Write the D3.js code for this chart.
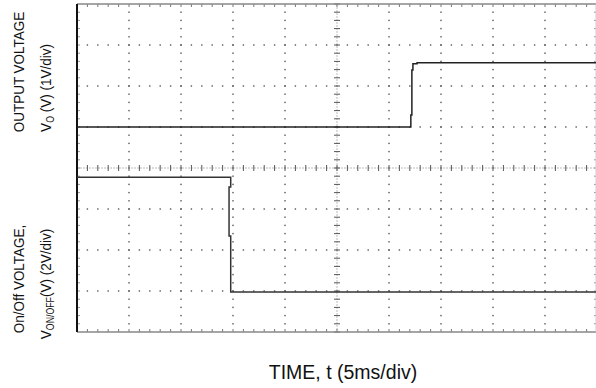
<!DOCTYPE html>
<html>
<head>
<meta charset="utf-8">
<script src="https://cdn.jsdelivr.net/npm/d3@7"></script>
<style>
  body { margin: 0; background: #fff; }
  text { font-family: "Liberation Sans", Arial, sans-serif; fill: #111; }
</style>
</head>
<body>
<div id="chart"></div>
<script>
// scope settings
const TIME_DIVS = 10, MS_PER_DIV = 5;
const V_DIVS = 8;

// output voltage trace (ms, V) - 1V/div, ground one div above centre
const voutTime = [0, 32.1, 32.1, 32.2, 32.2, 32.3, 32.3, 32.7, 32.7, 50];
const voutVolt = [0, 0, 0.29, 0.29, 1.39, 1.39, 1.54, 1.54, 1.57, 1.57];

// on/off voltage trace (ms, V) - 2V/div
const vonTime = [0, 14.78, 14.78, 14.62, 14.62, 14.78, 14.78, 50];
const vonVolt = [5.55, 5.55, 5.07, 5.07, 2.68, 2.68, -0.05, -0.05];

const W = 596, H = 388;
const padL = 77, padT = 4, plotW = 520, plotH = 328;
const STRETCH = 1.15; // side labels are drawn a bit tall

const svg = d3.select("#chart").append("svg")
  .attr("width", W)
  .attr("height", H)

const x = d3.scaleLinear()
  .domain([0, TIME_DIVS * MS_PER_DIV])
  .range([padL, padL + plotW]);

// screen divisions, top to bottom
const div = d3.scaleLinear()
  .domain([0, V_DIVS])
  .range([padT, padT + plotH]);

// upper half: output voltage 1V/div, 0V at 3 divisions down
const yOut = d3.scaleLinear()
  .domain([-1, 3])
  .range([div(4), div(0)]);

// lower half: on/off voltage 2V/div, 0V at 7 divisions down
const yOn = d3.scaleLinear()
  .domain([-2, 6])
  .range([div(8), div(4)]);

const g = svg.append("g");

const majorT = d3.range(0, TIME_DIVS * MS_PER_DIV + 0.01, MS_PER_DIV);
const minorT = d3.range(0, TIME_DIVS * MS_PER_DIV + 0.01, MS_PER_DIV / 5);
const majorD = d3.range(0, V_DIVS + 0.01, 1);
const minorD = d3.range(0, V_DIVS + 0.01, 0.2);

// dotted grid: dots along each major line at minor steps
majorT.slice(1, -1).forEach(t => {
  if (t === 25) return;
  g.selectAll(null).data(minorD.slice(1, -1)).join("rect")
    .attr("x", x(t) - 0.7).attr("y", d => div(d) - 0.7)
    .attr("width", 1.4).attr("height", 1.4)
    .attr("fill", "#555");
});
majorD.slice(1, -1).forEach(d => {
  if (d === 4) return;
  g.selectAll(null).data(minorT.slice(1, -1)).join("rect")
    .attr("x", t => x(t) - 0.7).attr("y", div(d) - 0.7)
    .attr("width", 1.4).attr("height", 1.4)
    .attr("fill", "#555");
});

// centre crosshair
g.append("line")
  .attr("x1", x(0)).attr("x2", x(50)).attr("y1", div(4)).attr("y2", div(4))
  .attr("stroke", "#bbb").attr("stroke-dasharray", "2 1")
g.append("line")
  .attr("x1", x(25)).attr("x2", x(25)).attr("y1", div(0)).attr("y2", div(8))
  .attr("stroke", "#bbb").attr("stroke-dasharray", "2 1")
g.selectAll(null).data(minorT).join("line")
  .attr("x1", t => x(t)).attr("x2", t => x(t))
  .attr("y1", div(4) - 3).attr("y2", div(4) + 3)
  .attr("stroke", "#555")
g.selectAll(null).data(minorD).join("line")
  .attr("x1", x(25) - 3).attr("x2", x(25) + 3)
  .attr("y1", d => div(d)).attr("y2", d => div(d))
  .attr("stroke", "#555")

// border ticks on top and bottom
g.selectAll(null).data(minorT.slice(1, -1)).join("line")
  .attr("x1", t => x(t)).attr("x2", t => x(t))
  .attr("y1", div(0)).attr("y2", div(0) + 3)
  .attr("stroke", "#777")
g.selectAll(null).data(minorT.slice(1, -1)).join("line")
  .attr("x1", t => x(t)).attr("x2", t => x(t))
  .attr("y1", div(8) - 3).attr("y2", div(8))
  .attr("stroke", "#777")
// left / right border ticks
g.selectAll(null).data(minorD.slice(1, -1)).join("line")
  .attr("x1", x(0)).attr("x2", x(0) + 3)
  .attr("y1", d => div(d)).attr("y2", d => div(d))
  .attr("stroke", "#999")
g.selectAll(null).data(minorD.slice(1, -1)).join("line")
  .attr("x1", x(50) - 3).attr("x2", x(50))
  .attr("y1", d => div(d)).attr("y2", d => div(d))
  .attr("stroke", "#999")

// frame
g.append("line")
  .attr("x1", x(0)).attr("x2", x(50)).attr("y1", div(0)).attr("y2", div(0))
  .attr("stroke", "#888").attr("stroke-width", 1.5)
g.append("line")
  .attr("x1", x(0)).attr("x2", x(50)).attr("y1", div(8)).attr("y2", div(8))
  .attr("stroke", "#888").attr("stroke-width", 1.5)
g.append("line")
  .attr("x1", x(50) - 1).attr("x2", x(50) - 1).attr("y1", div(0)).attr("y2", div(8))
  .attr("stroke", "#ccc")
g.append("line")
  .attr("x1", x(0)).attr("x2", x(0)).attr("y1", div(0)).attr("y2", div(8))
  .attr("stroke", "#111").attr("stroke-width", 2)

// traces
const lineOut = d3.line().x(d => x(d[0])).y(d => yOut(d[1]));
const lineOn = d3.line().x(d => x(d[0])).y(d => yOn(d[1]));

g.append("path")
  .attr("d", lineOut(d3.zip(voutTime, voutVolt)))
  .attr("fill", "none").attr("stroke", "#222").attr("stroke-width", 1.5)
g.append("path")
  .attr("d", lineOn(d3.zip(vonTime, vonVolt)))
  .attr("fill", "none").attr("stroke", "#333").attr("stroke-width", 1.5)

// labels
const FS = 13.5;
const ylab = (cx, cy, parts) => {
  const t = svg.append("text")
    .attr("transform", `translate(${cx},${cy}) scale(${STRETCH},1) rotate(-90)`)
    .attr("text-anchor", "middle")
    .attr("font-size", FS)
  parts.forEach(p => {
    t.append("tspan")
      .attr("dy", p.sub ? 3 : (p.back ? -3 : 0))
      .attr("font-size", p.sub ? FS * 0.65 : FS)
      .text(p.s)
  })
}
ylab(24, 72, [{ s: "OUTPUT VOLTAGE" }])
ylab(51, 88, [{ s: "V" }, { s: "O", sub: true }, { s: " (V) (1V/div)", back: true }])
ylab(24, 279, [{ s: "On/Off VOLTAGE," }])
ylab(51, 284, [{ s: "V" }, { s: "ON/OFF", sub: true }, { s: "(V) (2V/div)", back: true }])

svg.append("text")
  .attr("x", 343)
  .attr("y", 379)
  .attr("text-anchor", "middle")
  .attr("font-size", 19.5)
  .text("TIME, t (5ms/div)")
</script>
</body>
</html>
